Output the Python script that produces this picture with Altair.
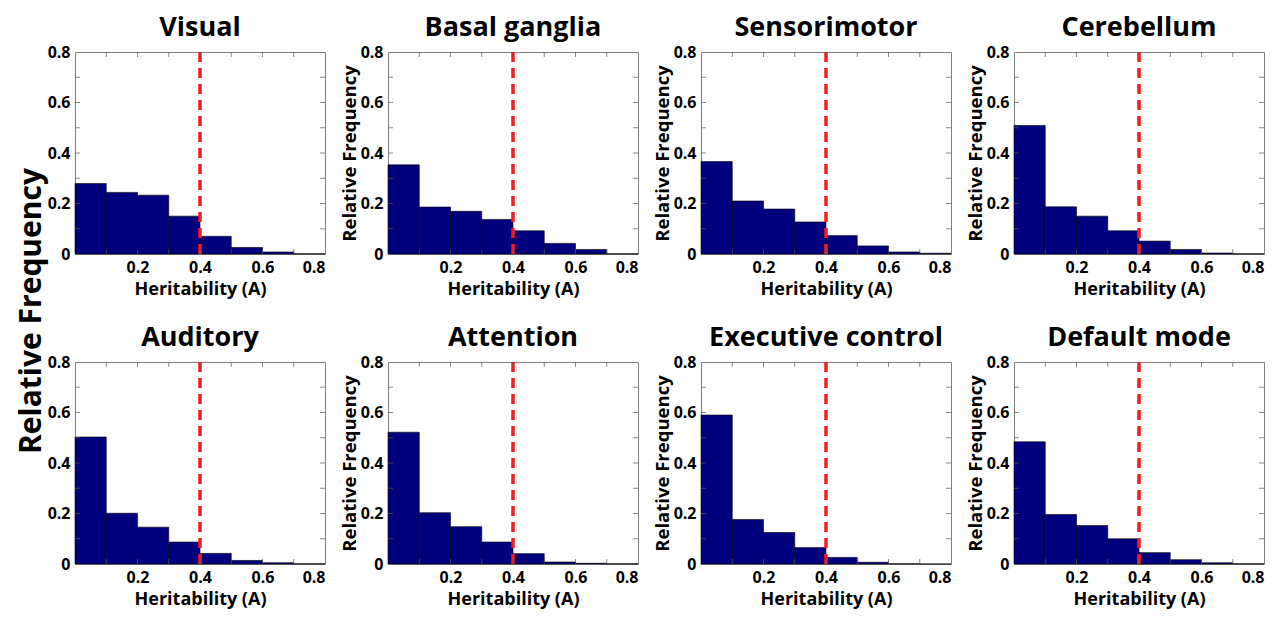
import altair as alt
import pandas as pd

FONT = "Open Sans"

panel_names = ["Visual", "Basal ganglia", "Sensorimotor", "Cerebellum",
               "Auditory", "Attention", "Executive control", "Default mode"]
bin_starts = [0.0, 0.1, 0.2, 0.3, 0.4, 0.5, 0.6, 0.7]
bin_ends = [0.1, 0.2, 0.3, 0.4, 0.5, 0.6, 0.7, 0.8]

visual = [0.279, 0.244, 0.233, 0.150, 0.070, 0.026, 0.008, 0.001]
basal_ganglia = [0.353, 0.186, 0.169, 0.137, 0.092, 0.042, 0.018, 0.001]
sensorimotor = [0.366, 0.210, 0.178, 0.127, 0.073, 0.032, 0.008, 0.003]
cerebellum = [0.509, 0.187, 0.150, 0.092, 0.051, 0.018, 0.004, 0.001]
auditory = [0.503, 0.201, 0.146, 0.087, 0.042, 0.014, 0.005, 0.001]
attention = [0.522, 0.203, 0.148, 0.087, 0.041, 0.008, 0.003, 0.001]
executive_control = [0.590, 0.176, 0.125, 0.065, 0.026, 0.007, 0.001, 0.0]
default_mode = [0.484, 0.196, 0.152, 0.100, 0.045, 0.017, 0.005, 0.001]

series = [visual, basal_ganglia, sensorimotor, cerebellum,
          auditory, attention, executive_control, default_mode]
thresholds = [0.4, 0.4, 0.4, 0.4, 0.4, 0.4, 0.4, 0.4]

x_tick_labels = [0.2, 0.4, 0.6, 0.8]
y_tick_labels = [0.0, 0.2, 0.4, 0.6, 0.8]
minor_ticks = [0.1, 0.2, 0.3, 0.4, 0.5, 0.6, 0.7]

PW, PH = 250, 202


def panel(name, freqs, thr, show_ytitle):
    df = pd.DataFrame({"start": bin_starts, "end": bin_ends, "freq": freqs,
                       "base": [0.0] * len(freqs)})
    xs = alt.Scale(domain=[0, 0.8], nice=False, zero=False)
    ys = alt.Scale(domain=[0, 0.8], nice=False)
    xaxis = alt.Axis(values=x_tick_labels, title="Heritability (A)",
                     labelExpr="datum.value == 0 ? '0' : format(datum.value, '.1f')",
                     grid=False, domain=False, ticks=False,
                     labelFont=FONT, labelFontSize=16, labelFontWeight="bold",
                     labelColor="black", labelPadding=5,
                     titleFont=FONT, titleFontSize=18, titleFontWeight="bold",
                     titleColor="black", titlePadding=5)
    yaxis = alt.Axis(values=y_tick_labels, title="Relative Frequency" if show_ytitle else None,
                     labelExpr="datum.value == 0 ? '0' : format(datum.value, '.1f')",
                     grid=False, domain=False, ticks=False,
                     labelFont=FONT, labelFontSize=16, labelFontWeight="bold",
                     labelColor="black", labelPadding=5,
                     titleFont=FONT, titleFontSize=18.5, titleFontWeight="bold",
                     titleColor="black", titlePadding=1)
    bars = alt.Chart(df).mark_bar(color="#00007F", stroke="black", strokeWidth=0.6,
                                  opacity=1).encode(
        x=alt.X("start:Q", scale=xs, axis=xaxis),
        x2="end:Q",
        y=alt.Y("freq:Q", scale=ys, axis=yaxis),
        y2="base:Q",
    )
    tdf = pd.DataFrame({"thr": [thr]})
    rule = alt.Chart(tdf).mark_rule(color="#FF1A1A", strokeWidth=3.5,
                                    strokeDash=[10, 6]).encode(x=alt.X("thr:Q", scale=xs))
    mdf = pd.DataFrame({"m": minor_ticks, "lo": [0.0] * 7, "hi": [0.8] * 7})
    tick_style = dict(color="#555555", thickness=1, size=5)
    tb = alt.Chart(mdf).mark_tick(orient="vertical", yOffset=-2.5, **tick_style).encode(
        x=alt.X("m:Q", scale=xs), y=alt.Y("lo:Q", scale=ys))
    tt = alt.Chart(mdf).mark_tick(orient="vertical", yOffset=2.5, **tick_style).encode(
        x=alt.X("m:Q", scale=xs), y=alt.Y("hi:Q", scale=ys))
    tl = alt.Chart(mdf).mark_tick(orient="horizontal", xOffset=2.5, **tick_style).encode(
        y=alt.Y("m:Q", scale=ys), x=alt.X("lo:Q", scale=xs))
    tr = alt.Chart(mdf).mark_tick(orient="horizontal", xOffset=-2.5, **tick_style).encode(
        y=alt.Y("m:Q", scale=ys), x=alt.X("hi:Q", scale=xs))
    return alt.layer(bars, rule, tb, tt, tl, tr).properties(
        width=PW, height=PH,
        title=alt.TitleParams(name, fontSize=27, fontWeight="bold", font=FONT,
                              color="black", anchor="middle", frame="group", offset=2),
    )


charts = [panel(n, s, t, i % 4 != 0) for i, (n, s, t) in enumerate(zip(panel_names, series, thresholds))]
row1 = alt.hconcat(*charts[:4], spacing=13)
row2 = alt.hconcat(*charts[4:], spacing=13)

chart = alt.vconcat(row1, row2, spacing=24).properties(
    title=alt.TitleParams("Relative Frequency", orient="left", anchor="middle",
                          fontSize=30, fontWeight="bold", font=FONT, color="black", offset=0),
    padding={"left": 8, "top": 5, "right": 0, "bottom": 0},
).configure_view(stroke="#7f7f7f", strokeWidth=1).configure_axis(labelOverlap=False)

chart.save("out.html", embed_options={"renderer": "svg", "actions": False})
